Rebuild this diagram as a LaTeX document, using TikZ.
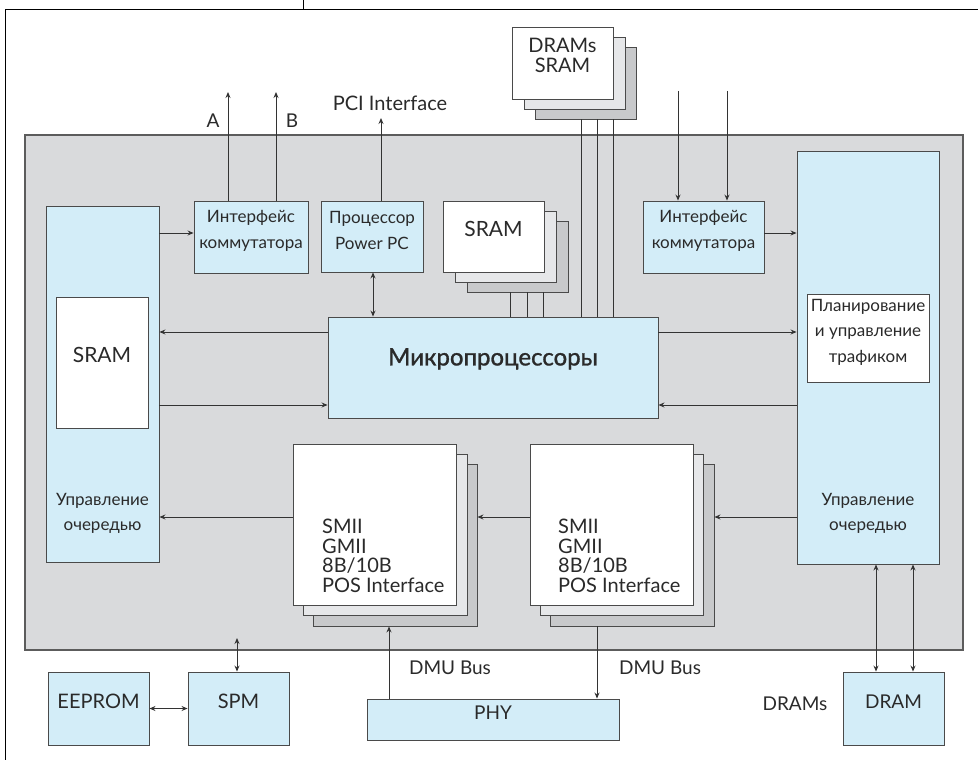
\documentclass[tikz,border=0pt]{standalone}
\usepackage{fontspec}
\setmainfont{Lato}
\newfontfamily\medfont[FakeBold=1.2]{Lato}
\usetikzlibrary{arrows.meta,fit}
\definecolor{boxblue}{HTML}{D3EDF8}
\definecolor{panelgray}{HTML}{D9DADC}
\definecolor{stackmid}{HTML}{E6E7E9}
\definecolor{stackback}{HTML}{C8C9CB}
\definecolor{edge}{HTML}{4A4A4A}
\definecolor{wire}{HTML}{333333}
\definecolor{txt}{HTML}{2A2A2A}
\tikzset{
  blk/.style={draw=edge, line width=0.9pt, fill=boxblue, inner sep=0pt, align=center,
    text=txt, font=\fontsize{17}{25.5}\selectfont},
  wbox/.style={blk, fill=white},
  midbox/.style={blk, fill=stackmid},
  backbox/.style={blk, fill=stackback},
  panel/.style={draw=edge!90, line width=1.1pt, fill=panelgray, inner sep=0pt},
  wirel/.style={draw=wire, line width=0.9pt},
  arr/.style={wirel, -{Stealth[length=6pt,width=5pt]}},
  darr/.style={wirel, {Stealth[length=6pt,width=5pt]}-{Stealth[length=6pt,width=5pt]}},
  lbl/.style={inner sep=0pt, text=txt, font=\fontsize{19}{21}\selectfont},
  stacktxt/.style={inner sep=0pt, text=txt, align=left, anchor=north west,
    font=\fontsize{20}{19.5}\selectfont}
}
\newcommand\rbox[7]{\node[#2, fit={(#3,#4) (#5,#6)}] (#1) {#7};}
\begin{document}
\begin{tikzpicture}[x=1pt,y=-1pt]
\useasboundingbox (0,0) rectangle (978,760);
% page frame fragment
\coordinate (f0) at (303,0);
\coordinate (f1) at (303,9);
\coordinate (f2) at (5,9);
\coordinate (f3) at (978,9);
\coordinate (f4) at (5,760);
\draw[line width=0.9pt] (f0) -- (f1);
\draw[line width=0.9pt] (f4) -- (f2) -- (f3);

% main panel
\rbox{panel}{panel}{25}{135}{963}{650}{}

% left queue
\rbox{lq}{blk}{46}{206}{159}{562}{}
\rbox{lsram}{wbox, font=\fontsize{21}{23}\selectfont}{56}{297}{148}{428}{SRAM}
\node[lbl, align=center, font=\fontsize{17}{25}\selectfont] (lqt) at (102.5,513.5) {Управление\\очередью};

% right queue
\rbox{rq}{blk}{797}{151}{939}{564}{}
\rbox{plan}{wbox}{807}{294}{929}{382}{Планирование\\и управление\\трафиком}
\node[lbl, align=center, font=\fontsize{17}{25}\selectfont] (rqt) at (868,513.5) {Управление\\очередью};

% interfaces
\rbox{lif}{blk}{194}{201}{308}{273}{Интерфейс\\коммутатора}
\rbox{ppc}{blk}{321}{201}{423}{272}{Процессор\\Power PC}
\rbox{rif}{blk}{643}{201}{764}{273}{Интерфейс\\коммутатора}

% SRAM stack
\rbox{s3}{backbox}{467}{221}{568}{292}{}
\rbox{s2}{midbox}{455}{211}{556}{282}{}
\rbox{s1}{wbox, font=\fontsize{21}{23}\selectfont}{443}{201}{544}{272}{SRAM}

% DRAMs stack
\rbox{d3}{backbox}{535}{47}{636}{119}{}
\rbox{d2}{midbox}{524}{37}{625}{109}{}
\rbox{d1}{wbox, font=\fontsize{20}{20}\selectfont}{512}{27}{613}{99}{DRAMs\\SRAM}

% microprocessors
\rbox{micro}{blk, font=\medfont\fontsize{24}{26}\selectfont}{328}{317}{658}{418}{Микропроцессоры}

% SMII stacks
\rbox{la3}{backbox}{313}{464}{477}{626}{}
\rbox{la2}{midbox}{303}{454}{467}{615}{}
\rbox{la1}{wbox}{293}{444}{456}{605}{}
\node[stacktxt] (lat) at (322,519) {SMII\\GMII\\8B/10B\\POS Interface};
\rbox{ra3}{backbox}{550}{464}{714}{626}{}
\rbox{ra2}{midbox}{540}{454}{703}{615}{}
\rbox{ra1}{wbox}{530}{444}{693}{605}{}
\node[stacktxt] (rat) at (558,519) {SMII\\GMII\\8B/10B\\POS Interface};

% bottom boxes
\rbox{eeprom}{blk, font=\fontsize{20}{22}\selectfont}{48}{672}{149}{745}{EEPROM}
\rbox{spm}{blk, font=\fontsize{20}{22}\selectfont}{188}{672}{289}{745}{SPM}
\rbox{phy}{blk, font=\fontsize{19}{21}\selectfont}{367}{699}{619}{740}{PHY}
\rbox{dram}{blk, font=\fontsize{19}{21}\selectfont}{843}{672}{944}{745}{DRAM}

% free labels
\node[lbl] (la) at (213,121) {A};
\node[lbl] (lb) at (292,121) {B};
\node[lbl, font=\fontsize{20}{22}\selectfont] (pci) at (390,103) {PCI Interface};
\node[lbl] (dmu1) at (450,668) {DMU Bus};
\node[lbl] (dmu2) at (660,668) {DMU Bus};
\node[lbl] (drams) at (795,704) {DRAMs};

% free ends
\coordinate (aTop) at (228,92);
\coordinate (bTop) at (276,92);
\coordinate (pciTop) at (381,118);
\coordinate (in1) at (678,91);
\coordinate (in2) at (727,91);
\coordinate (spmTop) at (237,638);

% connectors top
\draw[arr] (lif.north -| aTop) -- (aTop);
\draw[arr] (lif.north -| bTop) -- (bTop);
\draw[arr] (ppc.north -| pciTop) -- (pciTop);
\draw[arr] (in1) -- (rif.north -| in1);
\draw[arr] (in2) -- (rif.north -| in2);
\draw[darr] (ppc.south -| 373,0) -- (micro.north -| 373,0);
\foreach \xx in {510,527,543} \draw[wirel] (s3.south -| \xx,0) -- (micro.north -| \xx,0);
\foreach \xx in {581,597,613} \draw[wirel] (d3.south -| \xx,0) -- (micro.north -| \xx,0);

% left / right interface links
\draw[arr] (lq.east |- 0,233) -- (lif.west |- 0,233);
\draw[arr] (rif.east |- 0,233) -- (rq.west |- 0,233);

% micro links
\draw[arr] (micro.west |- 0,332) -- (lq.east |- 0,332);
\draw[arr] (lq.east |- 0,405) -- (micro.west |- 0,405);
\draw[arr] (micro.east |- 0,332) -- (rq.west |- 0,332);
\draw[arr] (rq.west |- 0,405) -- (micro.east |- 0,405);

% SMII chain
\draw[arr] (rq.west |- 0,517) -- (ra3.east |- 0,517);
\draw[arr] (ra1.west |- 0,517) -- (la3.east |- 0,517);
\draw[arr] (la1.west |- 0,517) -- (lq.east |- 0,517);

% bottom
\draw[arr] (phy.north -| 389,0) -- (la3.south -| 389,0);
\draw[arr] (ra3.south -| 597,0) -- (phy.north -| 597,0);
\draw[darr] (spm.north -| spmTop) -- (spmTop);
\draw[darr] (eeprom.east) -- (spm.west);
\draw[darr] (rq.south -| 876,0) -- (dram.north -| 876,0);
\draw[darr] (rq.south -| 913,0) -- (dram.north -| 913,0);
\end{tikzpicture}
\end{document}
